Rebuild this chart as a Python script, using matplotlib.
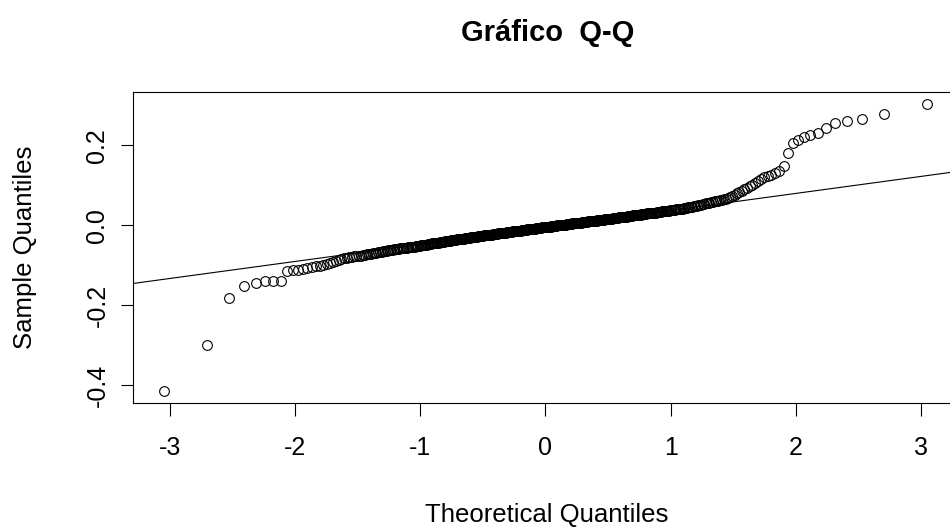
import numpy as np
import matplotlib
matplotlib.use("Agg")
import matplotlib.pyplot as plt
from statistics import NormalDist

# Sorted sample values (in thousandths)
lower_tail = [-416, -299, -182, -152, -144, -140, -140, -139, -115, -113,
              -112, -110, -107, -105, -103, -101, -99, -97, -94, -92,
              -89, -87, -85, -83, -81, -80, -79, -78, -77, -76]

body = [
    -76, -75, -74, -73, -72, -71, -70, -70, -69, -68, -67, -66, -65, -65, -64, -63, -62, -62, -61, -60,
    -60, -59, -59, -58, -58, -57, -57, -56, -56, -55, -55, -54, -54, -53, -53, -52, -52, -51, -51, -50, -50, -49, -49, -48, -48,
    -47, -47, -46, -46, -45, -45, -44, -44, -43, -43, -43, -42, -42, -41, -41, -41, -40, -40, -39, -39, -39, -38, -38, -37, -37,
    -37, -36, -36, -36, -35, -35, -35, -34, -34, -34, -33, -33, -33, -32, -32, -32, -31, -31, -31, -30, -30, -30, -29, -29, -29,
    -28, -28, -28, -27, -27, -27, -26, -26, -26, -26, -25, -25, -25, -24, -24, -24, -24, -23, -23, -23, -23, -22, -22, -22, -22,
    -21, -21, -21, -20, -20, -20, -20, -19, -19, -19, -18, -18, -18, -18, -17, -17, -17, -17, -16, -16, -16, -16, -15, -15, -15,
    -15, -14, -14, -14, -14, -13, -13, -13, -13, -12, -12, -12, -12, -11, -11, -11, -11, -10, -10, -10, -10, -9, -9, -9, -9,
    -8, -8, -8, -8, -7, -7, -7, -7, -6, -6, -6, -6, -5, -5, -5, -5, -5, -4, -4, -4, -4, -3, -3, -3, -3,
    -2, -2, -2, -2, -1, -1, -1, -1, 0, 0, 0, 0, 0, 1, 1, 1, 1, 2, 2, 2, 2, 3, 3, 3, 3,
    4, 4, 4, 4, 5, 5, 5, 5, 5, 6, 6, 6, 6, 7, 7, 7, 7, 8, 8, 8, 8, 9, 9, 9, 9,
    10, 10, 10, 10, 11, 11, 11, 11, 12, 12, 12, 12, 13, 13, 13, 13, 14, 14, 14, 14, 14, 15, 15, 15, 15,
    16, 16, 16, 17, 17, 17, 18, 18, 18, 18, 19, 19, 19, 20, 20, 20, 21, 21, 21, 22, 22, 22, 22, 23, 23,
    23, 24, 24, 24, 25, 25, 25, 26, 26, 26, 27, 27, 27, 28, 28, 28, 29, 29, 29, 30, 30, 30, 31, 31, 31,
    32, 32, 32, 33, 33, 34, 34, 34, 35, 35, 36, 36, 36, 37, 37, 38, 38, 39, 39, 39, 40, 40, 41, 41, 42,
    42, 43, 44, 44, 45, 46, 46, 47, 48, 48, 49, 50, 51, 52, 53,
    54, 55, 56, 57, 58, 59, 60, 61, 62, 63,
    64, 66, 67, 69, 71,
]

upper_tail = [74, 77, 80, 83, 86, 90, 94, 98, 102, 107,
              112, 116, 120, 124, 127, 130, 136, 148, 182, 207,
              213, 220, 225, 231, 243, 257, 261, 267, 280, 305]

x_ticks = [-3, -2, -1, 0, 1, 2, 3]
y_ticks = [-0.4, -0.2, 0.0, 0.2]
y_tick_labels = ["-0.4", "-0.2", "0.0", "0.2"]

sample = np.sort(np.array(lower_tail + body + upper_tail) / 1000.0)
n = len(sample)

# theoretical quantiles as in R's qqnorm (ppoints)
a = 3 / 8 if n <= 10 else 0.5
probs = (np.arange(1, n + 1) - a) / (n + 1 - 2 * a)
nd = NormalDist()
theo = np.array([nd.inv_cdf(p) for p in probs])

# qqline through the quartiles
yq = np.quantile(sample, [0.25, 0.75])
xq = np.array([nd.inv_cdf(0.25), nd.inv_cdf(0.75)])
slope = (yq[1] - yq[0]) / (xq[1] - xq[0])
intercept = yq[0] - slope * xq[0]

plt.rcParams["font.family"] = ["Liberation Sans", "DejaVu Sans"]

fig = plt.figure(figsize=(9.5, 5.29), dpi=100)
W, H = 950, 529
left, right, top, bottom = 133, 958, 92, 403
ax = fig.add_axes([left / W, 1 - bottom / H, (right - left) / W, (bottom - top) / H])

ax.plot(theo, sample, linestyle="none", marker="o", markersize=7,
        markerfacecolor="none", markeredgecolor="black", markeredgewidth=0.8)
ax.axline((0, intercept), slope=slope, color="black", linewidth=0.8)

# R style 4% padding
xr = theo.max() - theo.min()
yr = sample.max() - sample.min()
ax.set_xlim(theo.min() - 0.04 * xr, theo.max() + 0.04 * xr)
ax.set_ylim(sample.min() - 0.04 * yr, sample.max() + 0.04 * yr)

ax.set_xticks(x_ticks)
ax.set_xticklabels([str(t) for t in x_ticks])
ax.set_yticks(y_ticks)
ax.set_yticklabels(y_tick_labels, rotation=90, va="center")
ax.tick_params(direction="out", length=9, width=0.8, labelsize=18)
ax.tick_params(axis="x", pad=15)
ax.tick_params(axis="y", pad=8)

for s in ax.spines.values():
    s.set_linewidth(0.8)

fig.text(547 / W, 1 - 515 / H, "Theoretical Quantiles",
         ha="center", va="center", fontsize=18.5)
fig.text(25 / W, 1 - (top + bottom) / 2 / H, "Sample Quantiles",
         ha="center", va="center", rotation=90, fontsize=18.5)
fig.text(548 / W, 1 - 33 / H, "Gráfico  Q-Q", ha="center", va="center",
         fontsize=21, fontweight="bold")

fig.savefig("out.png", dpi=100)
